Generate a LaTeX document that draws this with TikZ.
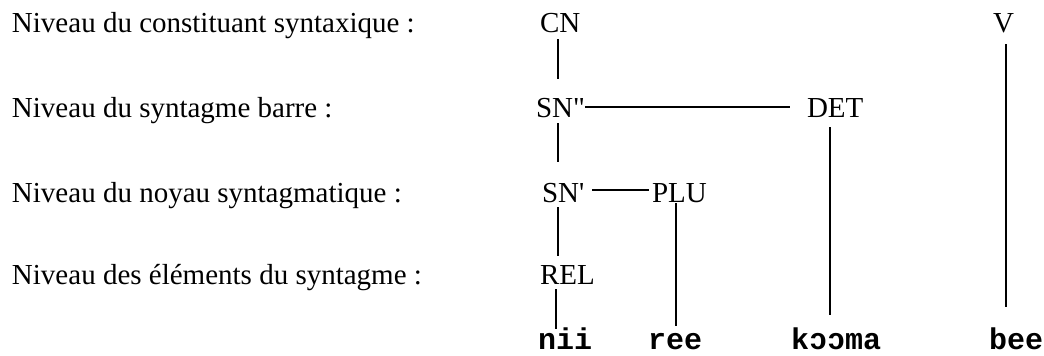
\documentclass[tikz,border=0pt]{standalone}
\usepackage{fontspec}
\setmainfont{Liberation Serif}[Ligatures=TeXOff]
\newfontfamily\wordfont{Liberation Mono}[Ligatures=TeXOff]
\begin{document}
\begin{tikzpicture}[x=1pt,y=-1pt,
  every node/.style={inner sep=0pt,outer sep=0pt,text height=20pt,text depth=0pt},
  lvl/.style={anchor=base west,font=\fontsize{29}{34}\selectfont},
  cat/.style={anchor=base west,font=\fontsize{29}{34}\selectfont},
  word/.style={anchor=base,font=\fontsize{30}{34}\selectfont\wordfont\bfseries},
  link/.style={line width=1.4pt}]
\useasboundingbox (0,0) rectangle (1044,356);

% level names
\node[lvl] (l1) at (12,32)  {Niveau du constituant syntaxique :};
\node[lvl] (l2) at (12,117) {Niveau du syntagme barre :};
\node[lvl] (l3) at (12,202) {Niveau du noyau syntagmatique :};
\node[lvl] (l4) at (12,284) {Niveau des éléments du syntagme :};

% categories
\node[cat] (cn)    at (540,32)  {CN};
\node[cat] (snbar) at (536,117) {SN"};
\node[cat] (det)   at (807,117) {DET};
\node[cat] (snp)   at (542,202) {SN'};
\node[cat] (plu)   at (652,202) {PLU};
\node[cat] (rel)   at (540,284) {REL};
\node[cat] (v)     at (993,32)  {V};

% words
\node[word] (nii)   at (565,349)  {nii};
\node[word] (ree)   at (675,349)  {ree};
\node[word] (kooma) at (836,349)  {kɔɔma};
\node[word] (bee)   at (1016,349) {bee};

% vertical links
\draw[link,shorten <=7pt,shorten >=18pt] ([xshift=18pt]cn.south west) -- ([xshift=18pt]cn.south west |- snbar.north);
\draw[link,shorten <=6pt,shorten >=20pt] ([xshift=22pt]snbar.south west) -- ([xshift=22pt]snbar.south west |- snp.north);
\draw[link,shorten <=5pt,shorten >=8pt]  ([xshift=16pt]snp.south west) -- ([xshift=16pt]snp.south west |- rel.north);
\draw[link,shorten <=5pt,shorten >=0pt]  ([xshift=16pt]rel.south west) -- ([xshift=16pt]rel.south west |- nii.north);
\draw[link,shorten <=10pt,shorten >=14pt] ([xshift=23pt]det.south west) -- ([xshift=23pt]det.south west |- kooma.north);
\draw[link,shorten <=1pt,shorten >=3pt]  ([xshift=24pt]plu.south west) -- ([xshift=24pt]plu.south west |- ree.north);
\draw[link,shorten <=12pt,shorten >=22pt] ([xshift=13pt]v.south west) -- ([xshift=13pt]v.south west |- bee.north);

% horizontal links
\draw[link,shorten >=17pt] (snbar.east) -- (snbar.east -| det.west);
\draw[link,shorten <=8pt,shorten >=3pt] ([yshift=2pt]snp.east) -- ([yshift=2pt]snp.east -| plu.west);
\end{tikzpicture}
\end{document}
